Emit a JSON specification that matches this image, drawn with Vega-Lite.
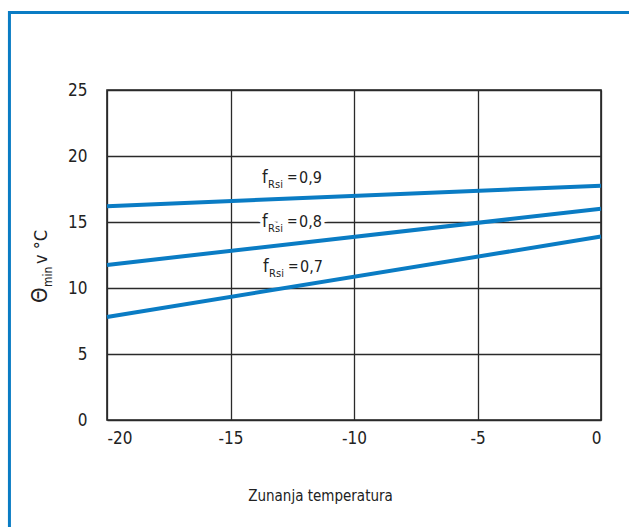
{
  "$schema": "https://vega.github.io/schema/vega-lite/v6.json",
  "width": 494,
  "height": 330,
  "autosize": "none",
  "padding": {"left": 107, "top": 90, "right": 28, "bottom": 107},
  "background": "white",
  "datasets": {
    "lines": [
      {"fRsi": 0.9, "te": -20, "theta": 16.2},
      {"fRsi": 0.9, "te": 0, "theta": 17.75},
      {"fRsi": 0.8, "te": -20, "theta": 11.75},
      {"fRsi": 0.8, "te": 0, "theta": 16.0},
      {"fRsi": 0.7, "te": -20, "theta": 7.8},
      {"fRsi": 0.7, "te": 0, "theta": 13.9}
    ],
    "labels": [
      {"fRsi": 0.9, "te": -13.72, "theta": 17.95},
      {"fRsi": 0.8, "te": -13.72, "theta": 14.62},
      {"fRsi": 0.7, "te": -13.68, "theta": 11.21}
    ],
    "ytitle": [
      {"te": -22.43, "theta": 8.86}
    ],
    "frame": [
      {"te": -23.95, "te2": 2, "theta": 30.87, "theta2": -10}
    ]
  },
  "encoding": {
    "x": {
      "field": "te",
      "type": "quantitative",
      "scale": {"domain": [-20, 0], "nice": false, "zero": false},
      "axis": {
        "values": [-20, -15, -10, -5, 0],
        "title": "Zunanja temperatura",
        "titleX": 213,
        "titleY": 80,
        "titleBaseline": "alphabetic",
        "titleAlign": "center",
        "labelPadding": 10,
        "format": "d"
      }
    },
    "y": {
      "field": "theta",
      "type": "quantitative",
      "scale": {"domain": [0, 25], "nice": false},
      "axis": {
        "values": [0, 5, 10, 15, 20, 25],
        "title": null,
        "labelPadding": 20,
        "format": "d"
      }
    }
  },
  "layer": [
    {
      "data": {"name": "frame"},
      "mark": {"type": "rect", "fill": "transparent", "stroke": "#0a7cc4", "strokeWidth": 3, "clip": false},
      "encoding": {
        "x2": {"field": "te2"},
        "y2": {"field": "theta2"}
      }
    },
    {
      "data": {"name": "lines"},
      "mark": {"type": "line", "color": "#0a7cc4", "strokeWidth": 4, "strokeCap": "butt"},
      "encoding": {"detail": {"field": "fRsi"}}
    },
    {
      "data": {"name": "labels"},
      "layer": [
        {"mark": {"type": "text", "text": "f", "align": "left", "baseline": "alphabetic", "fontSize": 18, "stroke": "white", "strokeWidth": 7, "fill": "white"}},
        {"mark": {"type": "text", "text": "Rsi", "align": "left", "baseline": "alphabetic", "fontSize": 11, "dx": 6, "dy": 5, "stroke": "white", "strokeWidth": 7, "fill": "white"}},
        {"mark": {"type": "text", "text": "=", "align": "left", "baseline": "alphabetic", "fontSize": 14, "dx": 25, "dy": -1, "stroke": "white", "strokeWidth": 7, "fill": "white"}},
        {"mark": {"type": "text", "align": "left", "baseline": "alphabetic", "fontSize": 16, "dx": 37, "stroke": "white", "strokeWidth": 7, "fill": "white"}, "encoding": {"text": {"field": "fRsi", "type": "quantitative", "format": ".1f"}}},
        {"mark": {"type": "text", "text": "f", "align": "left", "baseline": "alphabetic", "fontSize": 18, "color": "#222"}},
        {"mark": {"type": "text", "text": "Rsi", "align": "left", "baseline": "alphabetic", "fontSize": 11, "dx": 6, "dy": 5, "color": "#222"}},
        {"mark": {"type": "text", "text": "=", "align": "left", "baseline": "alphabetic", "fontSize": 14, "dx": 25, "dy": -1, "color": "#222"}},
        {"mark": {"type": "text", "align": "left", "baseline": "alphabetic", "fontSize": 16, "dx": 37, "color": "#222"}, "encoding": {"text": {"field": "fRsi", "type": "quantitative", "format": ".1f"}}}
      ]
    },
    {
      "data": {"name": "ytitle"},
      "layer": [
        {"mark": {"type": "text", "text": "Θ", "angle": 270, "align": "left", "baseline": "alphabetic", "fontSize": 22, "color": "#222"}},
        {"mark": {"type": "text", "text": "min", "angle": 270, "align": "left", "baseline": "alphabetic", "fontSize": 12, "dx": 16, "dy": 5, "color": "#222"}},
        {"mark": {"type": "text", "text": "v °C", "angle": 270, "align": "left", "baseline": "alphabetic", "fontSize": 18, "dx": 39, "color": "#222"}}
      ]
    }
  ],
  "config": {
    "locale": {
      "number": {"decimal": ",", "thousands": ".", "grouping": [3], "currency": ["", " €"], "minus": "-"}
    },
    "font": "DejaVu Sans Condensed",
    "view": {"stroke": "#222", "strokeWidth": 1.6},
    "text": {"font": "DejaVu Sans Condensed"},
    "axis": {
      "domain": false,
      "ticks": false,
      "grid": true,
      "gridColor": "#2a2a2a",
      "gridWidth": 1.3,
      "gridOpacity": 1,
      "labelFont": "DejaVu Sans Condensed",
      "labelFontSize": 17,
      "labelColor": "#222",
      "titleFont": "DejaVu Sans Condensed",
      "titleFontSize": 15,
      "titleFontWeight": "normal",
      "titleColor": "#222"
    }
  }
}
